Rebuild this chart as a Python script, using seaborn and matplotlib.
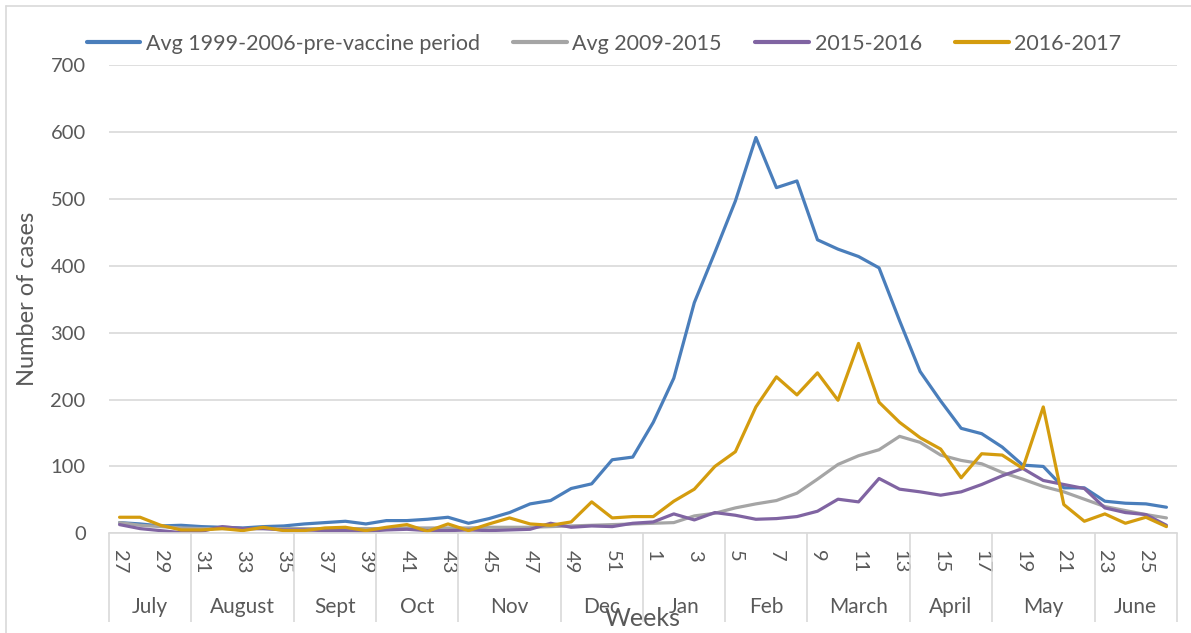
import numpy as np
import pandas as pd
import matplotlib
matplotlib.use("Agg")
import matplotlib.pyplot as plt
from matplotlib.lines import Line2D
from matplotlib.transforms import blended_transform_factory
import seaborn as sns

# Epidemiological weeks, July through June
week_labels = [str(w) for w in list(range(27, 53)) + list(range(1, 27))]
months = ["July", "August", "Sept", "Oct", "Nov", "Dec",
          "Jan", "Feb", "March", "April", "May", "June"]
weeks_per_month = [4, 5, 4, 4, 5, 4, 4, 4, 5, 4, 5, 4]

avg_1999_2006 = [16, 14, 11, 12, 10, 9, 8, 10, 11, 14, 16, 18, 14, 19, 19, 21, 24, 15, 22, 31, 44, 49,
                 67, 74, 110, 114, 166, 232, 345, 420, 497, 592, 517, 527, 439, 425, 414, 397, 318, 242,
                 198, 157, 149, 129, 102, 100, 68, 68, 48, 45, 44, 39]
avg_2009_2015 = [16, 12, 10, 8, 7, 7, 7, 7, 7, 7, 7, 7, 7, 7, 8, 8, 8, 8, 9, 9, 9, 10,
                 11, 12, 13, 14, 15, 16, 26, 30, 38, 44, 49, 60, 81, 103, 116, 125, 145, 136,
                 117, 109, 104, 91, 81, 70, 62, 51, 40, 34, 28, 23]
season_2015_2016 = [13, 7, 4, 1, 3, 10, 7, 7, 5, 5, 4, 4, 3, 5, 6, 4, 4, 5, 4, 5, 6, 15,
                    9, 11, 10, 15, 17, 29, 20, 31, 27, 21, 22, 25, 33, 51, 47, 82, 66, 62,
                    57, 62, 73, 86, 97, 79, 73, 67, 38, 31, 28, 12]
season_2016_2017 = [24, 24, 12, 5, 5, 7, 4, 9, 4, 4, 8, 9, 4, 9, 13, 3, 14, 4, 14, 23, 14, 12,
                    17, 47, 23, 25, 25, 48, 66, 100, 122, 189, 234, 207, 240, 199, 284, 196, 166, 143,
                    126, 83, 119, 117, 97, 189, 43, 18, 29, 15, 24, 10]

series_names = ["Avg 1999-2006-pre-vaccine period", "Avg 2009-2015", "2015-2016", "2016-2017"]
series_values = [avg_1999_2006, avg_2009_2015, season_2015_2016, season_2016_2017]
colors = ["#4A7EBB", "#A5A5A5", "#8064A2", "#D49C0E"]

records = []
for name, vals in zip(series_names, series_values):
    for pos, v in enumerate(vals):
        records.append({"pos": pos, "series": name, "cases": v})
df = pd.DataFrame(records)

sns.set_style("white")
plt.rcParams["font.family"] = ["Lato", "DejaVu Sans"]
TEXT = "#595959"
GRID = "#D9D9D9"

W, H = 1191, 633
fig = plt.figure(figsize=(W / 100, H / 100), dpi=100)
fig.patch.set_facecolor("white")

left, right, bottom_px, top_px = 109.3, 1176.7, 533.3, 65.3
ax = fig.add_axes([left / W, (H - bottom_px) / H, (right - left) / W, (bottom_px - top_px) / H])

sns.lineplot(data=df, x="pos", y="cases", hue="series", hue_order=series_names,
             palette=colors, linewidth=2.3, ax=ax, legend=True)

n = len(week_labels)
ax.set_xlim(-0.5, n - 0.5)
ax.set_ylim(0, 700)
ax.set_yticks(range(0, 701, 100))
ax.yaxis.grid(True, color=GRID, linewidth=1.2)
ax.xaxis.grid(False)
for s in ["left", "right", "top"]:
    ax.spines[s].set_visible(False)
ax.spines["bottom"].set_color(GRID)
ax.spines["bottom"].set_linewidth(1.2)
ax.set_axisbelow(True)

ax.tick_params(axis="y", length=0, pad=17, labelsize=14.5, labelcolor=TEXT)

# Week labels on every other week, rotated
ax.set_xticks(range(0, n, 2))
ax.set_xticklabels(week_labels[::2], rotation=270)
ax.tick_params(axis="x", which="major", length=0, pad=12, labelsize=14.5, labelcolor=TEXT)
ax.set_xticks(np.arange(-0.5, n, 1.0), minor=True)
ax.tick_params(axis="x", which="minor", length=30, width=1.2, color=GRID, direction="out")

ax.set_xlabel("")
ax.set_ylabel("")

# Month groups: separators and labels
trans = blended_transform_factory(ax.transData, ax.transAxes)
edges = np.concatenate([[0], np.cumsum(weeks_per_month)]) - 0.5
ax.vlines(edges, -0.189, 0, transform=trans, colors=GRID, linewidth=1.2, clip_on=False)
for m, a, b in zip(months, edges[:-1], edges[1:]):
    ax.text((a + b) / 2, -0.1575, m, transform=trans, ha="center", va="center",
            fontsize=15, color=TEXT)

fig.text(643 / W, 1 - 619 / H, "Weeks", ha="center", va="center", fontsize=18, color=TEXT)
fig.text(28 / W, 1 - 299 / H, "Number of cases", ha="center", va="center", rotation=90,
         fontsize=17, color=TEXT)

handles, labels = ax.get_legend_handles_labels()
ax.legend(handles, labels, loc="center", bbox_to_anchor=(604 / W, 1 - 44 / H),
          bbox_transform=fig.transFigure, ncol=4, frameon=False, handlelength=2.5,
          handletextpad=0.25, columnspacing=1.55, fontsize=15.5, labelcolor=TEXT)
for h in ax.get_legend().get_lines():
    h.set_linewidth(3)

# Chart frame
fig.add_artist(Line2D([6 / W, 6 / W], [0, 1 - 6 / H], transform=fig.transFigure, color=GRID, linewidth=1.2))
fig.add_artist(Line2D([6 / W, 1], [1 - 6 / H, 1 - 6 / H], transform=fig.transFigure, color=GRID, linewidth=1.2))

fig.savefig("out.png", dpi=100, facecolor="white")
